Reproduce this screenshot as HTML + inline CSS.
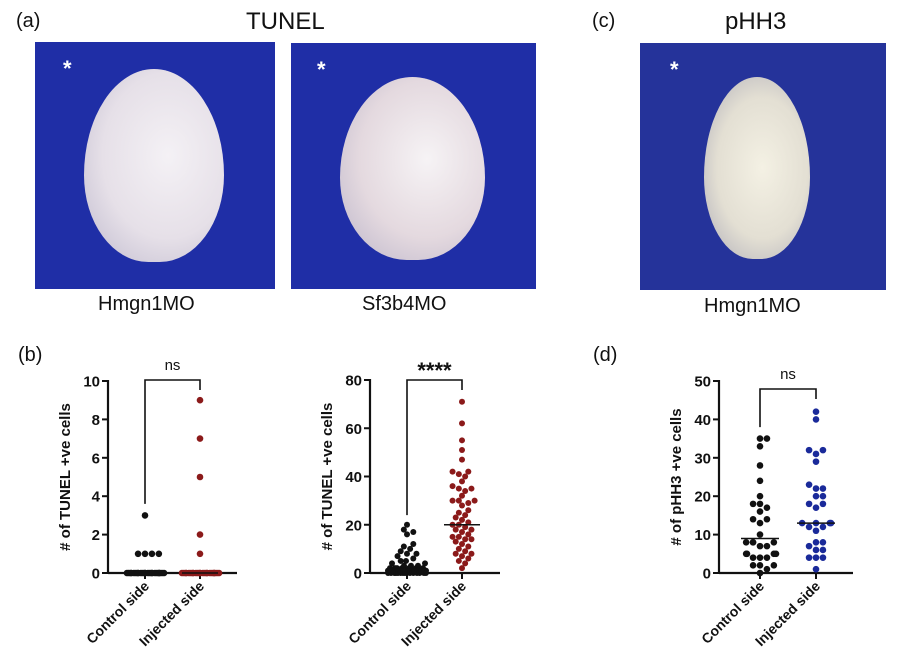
<!DOCTYPE html>
<html><head><meta charset="utf-8">
<style>
html,body{margin:0;padding:0;background:#fff;}
body{width:900px;height:671px;position:relative;overflow:hidden;font-family:"Liberation Sans",Arial,sans-serif;}
.t{position:absolute;color:#111;white-space:nowrap;}
.photo{position:absolute;overflow:hidden;}
.emb{position:absolute;border-radius:50% 50% 46% 46% / 55% 55% 45% 45%;}
.star{position:absolute;color:#fff;font-size:22px;font-weight:bold;}
</style></head>
<body>
<div class="t" style="left:16px;top:10px;font-size:20px;">(a)</div>
<div class="t" style="left:246px;top:8px;font-size:24px;">TUNEL</div>
<div class="t" style="left:592px;top:10px;font-size:20px;">(c)</div>
<div class="t" style="left:725px;top:8px;font-size:24px;">pHH3</div>

<div class="photo" style="left:35px;top:42px;width:240px;height:247px;background:#1f2ea6;">
  <div class="emb" style="left:49px;top:27px;width:140px;height:193px;background:radial-gradient(ellipse at 60% 45%,#f4f1f5 0%,#e6e0e8 55%,#bdb8cc 100%);"></div>
  <div class="star" style="left:28px;top:14px;">*</div>
</div>
<div class="photo" style="left:291px;top:43px;width:245px;height:246px;background:#1f2ea6;">
  <div class="emb" style="left:49px;top:34px;width:145px;height:183px;background:radial-gradient(ellipse at 60% 45%,#f6f3f5 0%,#e4d9df 55%,#b9b3c8 100%);"></div>
  <div class="star" style="left:26px;top:14px;">*</div>
</div>
<div class="photo" style="left:640px;top:43px;width:246px;height:247px;background:#25339a;">
  <div class="emb" style="left:64px;top:34px;width:106px;height:182px;background:radial-gradient(ellipse at 55% 50%,#f4f1e4 0%,#e3dfd3 55%,#aaa9b6 100%);"></div>
  <div class="star" style="left:30px;top:14px;">*</div>
</div>
<div class="t" style="left:98px;top:293px;font-size:20px;">Hmgn1MO</div>
<div class="t" style="left:362px;top:293px;font-size:20px;">Sf3b4MO</div>
<div class="t" style="left:704px;top:295px;font-size:20px;">Hmgn1MO</div>
<div class="t" style="left:18px;top:344px;font-size:20px;">(b)</div>
<div class="t" style="left:593px;top:344px;font-size:20px;">(d)</div>

<svg id="charts" width="900" height="671" style="position:absolute;left:0;top:0;"></svg>

<script>
// Chart 1: TUNEL Hmgn1MO
const c1Categories = ["Control side", "Injected side"];
const c1Control = [3,1,1,1,1,0,0,0,0,0,0,0,0,0,0,0,0,0,0,0,0,0,0,0,0,0,0,0];
const c1Injected = [9,7,5,2,1,0,0,0,0,0,0,0,0,0,0,0,0,0,0,0,0,0,0,0,0,0,0,0];
const c1Ticks = [0,2,4,6,8,10];
const c1Medians = [0,0];
const c1Sig = "ns";
// Chart 2: TUNEL Sf3b4MO
const c2Categories = ["Control side", "Injected side"];
const c2Control = [20,18,17,16,12,11,10,9,8,8,7,6,5,5,4,4,3,3,3,2,2,2,2,2,2,2,1,1,1,1,1,1,1,1,1,0,0,0,0,0,0,0,0,0,0,0,0,0,0,0];
const c2Injected = [71,62,55,51,47,42,42,41,40,38,36,35,35,34,32,30,30,30,29,28,26,25,24,23,22,21,20,20,19,18,18,17,16,15,15,14,14,13,12,11,10,9,8,8,7,6,5,4,2];
const c2Ticks = [0,20,40,60,80];
const c2Medians = [2,20];
const c2Sig = "****";
// Chart 3: pHH3
const c3Categories = ["Control side", "Injected side"];
const c3Control = [35,35,33,28,24,20,18,18,17,16,14,14,13,10,8,8,8,8,7,7,5,5,5,5,4,4,4,2,2,2,1,0];
const c3Injected = [42,40,32,32,31,29,23,22,22,20,20,18,18,17,13,13,13,13,12,12,11,8,8,7,6,6,4,4,4,1];
const c3Ticks = [0,10,20,30,40,50];
const c3Medians = [9,13];
const c3Sig = "ns";

const NS = "http://www.w3.org/2000/svg";
const svg = document.getElementById("charts");
function mk(tag, attrs, parent){
  const e = document.createElementNS(NS, tag);
  for (const k in attrs) e.setAttribute(k, attrs[k]);
  (parent||svg).appendChild(e);
  return e;
}
function yAt(v, max, y0, yTop){ return y0 - v/max*(y0-yTop); }

function chart(cfg){
  const g = mk("g", {});
  
  
  const yMax = cfg.ticks[cfg.ticks.length-1];
  const y = v => yAt(v, yMax, cfg.y0, cfg.yTop);
  const xs = [cfg.xc, cfg.xi];
  const ya = mk("line", {x1:cfg.ax, y1:cfg.yTop-1, x2:cfg.ax, y2:cfg.y0+1, stroke:"#111","stroke-width":2.2}, g);
  
  
  const xa = mk("line", {x1:cfg.ax, y1:cfg.y0, x2:cfg.axEnd, y2:cfg.y0, stroke:"#111","stroke-width":2.2}, g);
  
  
  cfg.ticks.forEach(t => {
    mk("line", {x1:cfg.ax-6, y1:y(t), x2:cfg.ax, y2:y(t), stroke:"#111","stroke-width":2}, g);
    const tl = mk("text", {x:cfg.ax-8, y:y(t)+5.5, "text-anchor":"end","font-size":15,"font-weight":"bold",fill:"#111"}, g);
    tl.textContent = t;
    
    
  });
  const yt = mk("text", {x:0, y:0, transform:`translate(${cfg.ax-38},${(cfg.y0+cfg.yTop)/2}) rotate(-90)`, "text-anchor":"middle","font-size":15,"font-weight":"bold",fill:"#111"}, g);
  yt.textContent = cfg.yTitle;
  
  
  cfg.cats.forEach((c,i) => {
    mk("line", {x1:xs[i], y1:cfg.y0, x2:xs[i], y2:cfg.y0+6, stroke:"#111","stroke-width":2}, g);
    const xl = mk("text", {x:0, y:0, transform:`translate(${xs[i]+5},${cfg.y0+14}) rotate(-45)`, "text-anchor":"end","font-size":14,"font-weight":"bold",fill:"#111"}, g);
    xl.textContent = c;
    
    
  });
  [cfg.control, cfg.injected].forEach((vals, i) => {
    const placed = [];
    const r = cfg.r;
    vals.slice().sort((a,b)=>a-b).forEach(v => {
      const py = y(v);
      let off = 0, found = false;
      for (let k = 0; k < 40; k++) {
        const o = (k % 2 ? 1 : -1) * Math.ceil(k/2) * r * 1.05;
        if (Math.abs(o) > cfg.maxW) break;
        if (placed.every(p => Math.hypot(p[0]-o, p[1]-py) >= r*1.9)) { off = o; found = true; break; }
      }
      if (!found) off = ((placed.length*7)%Math.round(cfg.maxW*2)) - cfg.maxW;
      placed.push([off, py]);
      const c = mk("circle", {cx:xs[i]+off, cy:py, r:r, fill: i===0 ? "#111" : cfg.color}, g);
      
      
    });
    const m = mk("line", {x1:xs[i]-cfg.medW, y1:y(cfg.medians[i]), x2:xs[i]+cfg.medW, y2:y(cfg.medians[i]), stroke:"#111","stroke-width":1.5}, g);
    
    
  });
  const bt = cfg.brTop;
  const br = mk("path", {d:`M${xs[0]},${y(cfg.brL)} V${bt} H${xs[1]} V${bt+10}`, fill:"none", stroke:"#111","stroke-width":1.6}, g);
  
  
  const s = mk("text", {x:(xs[0]+xs[1])/2, y: cfg.sig==="ns" ? bt-10 : bt-2, "text-anchor":"middle","font-size": cfg.sig==="ns"?15:22,"font-weight": cfg.sig==="ns"?"normal":"bold",fill:"#111"}, g);
  s.textContent = cfg.sig;
  
  
}

chart({name:"chart-tunel-hmgn1mo", ax:108, axEnd:237, y0:573, yTop:381, brTop:380, xc:145, xi:200, ticks:c1Ticks, cats:c1Categories,
  control:c1Control, injected:c1Injected, medians:c1Medians, sig:c1Sig, color:"#8b1a1a", r:3.3, maxW:20, medW:18,
  yTitle:"# of TUNEL +ve cells", brL:3.6});
chart({name:"chart-tunel-sf3b4mo", ax:370, axEnd:500, y0:573, yTop:380, brTop:380, xc:407, xi:462, ticks:c2Ticks, cats:c2Categories,
  control:c2Control, injected:c2Injected, medians:c2Medians, sig:c2Sig, color:"#8b1a1a", r:3.0, maxW:20, medW:18,
  yTitle:"# of TUNEL +ve cells", brL:24});
chart({name:"chart-phh3", ax:719, axEnd:853, y0:573, yTop:381, brTop:389, xc:760, xi:816, ticks:c3Ticks, cats:c3Categories,
  control:c3Control, injected:c3Injected, medians:c3Medians, sig:c3Sig, color:"#1a2a9a", r:3.3, maxW:18, medW:19,
  yTitle:"# of pHH3 +ve cells", brL:38});
</script>
</body></html>
